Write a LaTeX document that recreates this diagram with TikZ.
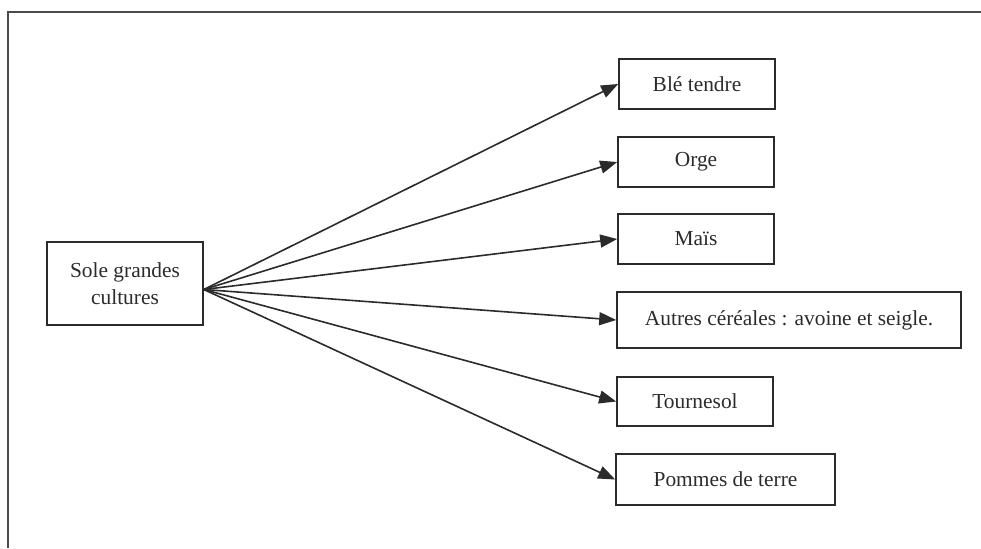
\documentclass[tikz,border=0pt]{standalone}
\usepackage{fontspec}
\setmainfont{Liberation Serif}
\usetikzlibrary{arrows.meta}
\definecolor{ink}{HTML}{2B2B2B}
\tikzset{
  box/.style={draw=ink, line width=1.6pt, inner sep=0pt, text=ink, align=center,
    font=\fontsize{21.4}{27}\selectfont},
  link/.style={draw=ink, line width=1.6pt, -{Triangle[length=17pt,width=13pt]}},
  frame/.style={draw=ink!85, line width=2pt}
}
\begin{document}
\begin{tikzpicture}[x=1pt,y=-1pt]
\useasboundingbox (0,0) rectangle (981,548);
\coordinate (ftop) at (981,12);
\coordinate (fcorner) at (8,12);
\coordinate (fbot) at (8,548);
\draw[frame] (ftop) -- (fcorner) -- (fbot);
\node[box, minimum width=156pt, minimum height=83pt] (src) at (125,283.5) {Sole grandes\\cultures};
\node[box, minimum width=156pt, minimum height=50pt] (ble) at (697,84) {Blé tendre};
\node[box, minimum width=156pt, minimum height=50pt] (orge) at (696,162) {Orge};
\node[box, minimum width=156pt, minimum height=50pt] (mais) at (696,239) {Maïs};
\node[box, minimum width=344pt, minimum height=56pt] (autres) at (789,320) {Autres céréales : avoine et seigle.};
\node[box, minimum width=156pt, minimum height=49pt] (tourn) at (695,401.5) {Tournesol};
\node[box, minimum width=219pt, minimum height=51pt] (pommes) at (725.5,479.5) {Pommes de terre};
\coordinate (o) at ([yshift=-6pt]src.east);
\foreach \t in {ble,orge,mais,autres,tourn,pommes}
  \draw[link] (o) -- (\t.west);
\end{tikzpicture}
\end{document}
